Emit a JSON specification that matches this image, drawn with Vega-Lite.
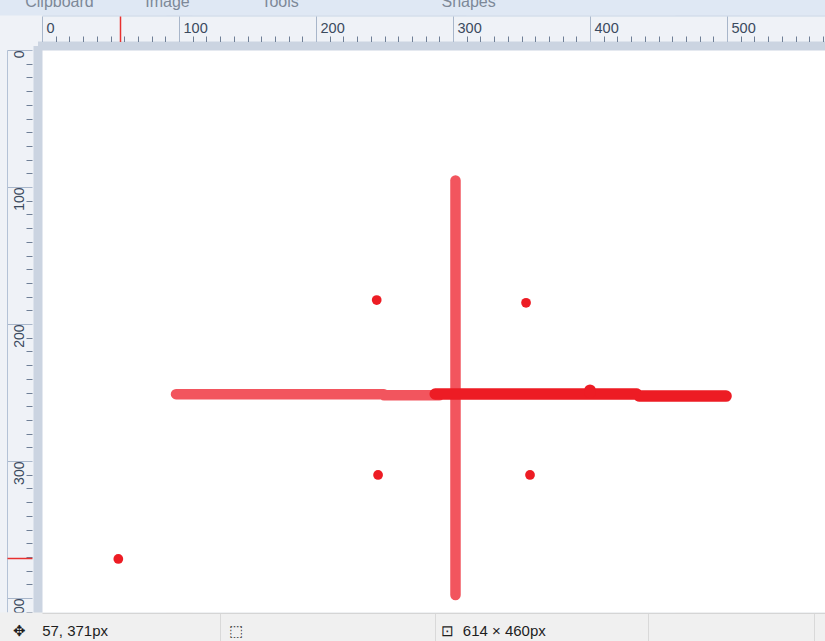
{
  "$schema": "https://vega.github.io/schema/vega-lite/v6.json",
  "width": 783,
  "height": 562,
  "autosize": {"type": "none"},
  "padding": {"left": 42, "top": 50, "right": 0, "bottom": 29},
  "background": "#eff2f7",
  "config": {
    "view": {"fill": "#ffffff", "stroke": null},
    "axis": {
      "grid": false,
      "labelFont": "Liberation Sans",
      "labelOverlap": false,
      "labelFlush": false,
      "labelBound": false,
      "tickCap": "butt"
    }
  },
  "datasets": {
    "strokes": [
      {"stroke": "v", "tool": "light", "i": 0, "x": 301.8, "y": 95.3},
      {"stroke": "v", "tool": "light", "i": 1, "x": 301.8, "y": 397.8},
      {"stroke": "h1", "tool": "light", "i": 0, "x": 97.8, "y": 251.2},
      {"stroke": "h1", "tool": "light", "i": 1, "x": 249.6, "y": 251.2},
      {"stroke": "h1", "tool": "light", "i": 2, "x": 249.6, "y": 252},
      {"stroke": "h1", "tool": "light", "i": 3, "x": 290, "y": 252},
      {"stroke": "h2", "tool": "dark", "i": 0, "x": 287, "y": 251.1},
      {"stroke": "h2", "tool": "dark", "i": 1, "x": 434, "y": 251.1},
      {"stroke": "h2", "tool": "dark", "i": 2, "x": 436, "y": 252.6},
      {"stroke": "h2", "tool": "dark", "i": 3, "x": 499.3, "y": 252.6},
      {"stroke": "bump", "tool": "dark", "i": 0, "x": 400, "y": 248.3},
      {"stroke": "bump", "tool": "dark", "i": 1, "x": 400, "y": 250}
    ],
    "dots": [
      {"x": 244.3, "y": 182.5},
      {"x": 353.3, "y": 184.5},
      {"x": 245.3, "y": 310.2},
      {"x": 356.2, "y": 310.2},
      {"x": 55.7, "y": 371.5}
    ]
  },
  "resolve": {"axis": {"x": "independent", "y": "independent"}},
  "layer": [
    {
      "data": {"name": "strokes"},
      "transform": [{"filter": "datum.tool == 'light'"}],
      "mark": {"type": "line", "color": "#f2555e", "strokeWidth": 10.5, "strokeCap": "round", "strokeJoin": "round"},
      "encoding": {
        "x": {"field": "x", "type": "quantitative", "scale": {"domain": [0, 571.5], "nice": false, "zero": false},
          "axis": {"orient": "top", "offset": 35, "values": [0, 200, 400, 571.5], "tickWidth": 300, "tickSize": 15.5,
            "tickColor": "#dfe8f4", "domain": false, "labels": false, "title": null}},
        "y": {"field": "y", "type": "quantitative", "scale": {"domain": [0, 410.2], "nice": false, "zero": false, "reverse": true},
          "axis": {"orient": "left", "offset": 4.5, "domainWidth": 9, "domainColor": "#cbd4e1", "domainCap": "square",
            "ticks": false, "labels": false, "title": null}},
        "detail": {"field": "stroke"},
        "order": {"field": "i"}
      }
    },
    {
      "data": {"name": "strokes"},
      "transform": [{"filter": "datum.tool == 'dark'"}],
      "mark": {"type": "line", "color": "#ed1c24", "strokeWidth": 11.5, "strokeCap": "round", "strokeJoin": "round"},
      "encoding": {
        "x": {"field": "x", "type": "quantitative", "scale": {"domain": [0, 571.5], "nice": false, "zero": false},
          "axis": {"orient": "top", "offset": 34.5, "values": [12.4, 91.2, 173.4, 311], "ticks": false,
            "domainColor": "#c8d5e6", "domainWidth": 1,
            "labelExpr": "datum.value < 50 ? 'Clipboard' : datum.value < 130 ? 'Image' : datum.value < 250 ? 'Tools' : 'Shapes'",
            "labelAlign": "center", "labelBaseline": "alphabetic", "labelPadding": 9, "labelFontSize": 16,
            "labelColor": "#7d8898", "title": null}},
        "y": {"field": "y", "type": "quantitative", "scale": {"domain": [0, 410.2], "nice": false, "zero": false, "reverse": true},
          "axis": {"orient": "left", "offset": 10,
            "values": [10, 20, 30, 40, 50, 60, 70, 80, 90, 110, 120, 130, 140, 150, 160, 170, 180, 190, 210, 220, 230, 240, 250, 260, 270, 280, 290, 310, 320, 330, 340, 350, 360, 370, 380, 390, 410],
            "tickSize": 6, "tickColor": "#6f7f96", "domain": false, "labels": false, "title": null}},
        "detail": {"field": "stroke"},
        "order": {"field": "i"}
      }
    },
    {
      "data": {"name": "dots"},
      "mark": {"type": "circle", "color": "#ed1c24", "opacity": 1, "size": 95},
      "encoding": {
        "x": {"field": "x", "type": "quantitative", "scale": {"domain": [0, 571.5], "nice": false, "zero": false},
          "axis": {"orient": "top", "offset": 4.5, "domainWidth": 9, "domainColor": "#cbd4e1", "domainCap": "square",
            "ticks": false, "labels": false, "title": null}},
        "y": {"field": "y", "type": "quantitative", "scale": {"domain": [0, 410.2], "nice": false, "zero": false, "reverse": true},
          "axis": {"orient": "left", "offset": 10, "values": [0, 100, 200, 300, 400], "format": "d",
            "tickSize": 25, "tickColor": "#a8b6ca", "domain": false,
            "labelAngle": 270, "labelAlign": "right", "labelBaseline": "middle", "labelPadding": -12, "labelDx": -3,
            "labelFontSize": 14, "labelColor": "#3b4a5e", "title": null}}
      }
    },
    {
      "data": {"name": "dots"},
      "mark": {"type": "point", "opacity": 0},
      "encoding": {
        "x": {"field": "x", "type": "quantitative", "scale": {"domain": [0, 571.5], "nice": false, "zero": false},
          "axis": {"orient": "top", "offset": 8.5,
            "values": [10, 20, 30, 40, 50, 60, 70, 80, 90, 110, 120, 130, 140, 150, 160, 170, 180, 190, 210, 220, 230, 240, 250, 260, 270, 280, 290, 310, 320, 330, 340, 350, 360, 370, 380, 390, 410, 420, 430, 440, 450, 460, 470, 480, 490, 510, 520, 530, 540, 550, 560, 570],
            "tickSize": 5.5, "tickColor": "#6f7f96", "domain": false, "labels": false, "title": null}},
        "y": {"field": "y", "type": "quantitative", "scale": {"domain": [0, 410.2], "nice": false, "zero": false, "reverse": true},
          "axis": {"orient": "left", "offset": 35, "domainColor": "#b4c2d6", "domainWidth": 1,
            "ticks": false, "labels": false, "title": null}}
      }
    },
    {
      "data": {"name": "dots"},
      "mark": {"type": "point", "opacity": 0},
      "encoding": {
        "x": {"field": "x", "type": "quantitative", "scale": {"domain": [0, 571.5], "nice": false, "zero": false},
          "axis": {"orient": "top", "offset": 8.5, "values": [0, 100, 200, 300, 400, 500], "format": "d",
            "tickSize": 25.5, "tickColor": "#a8b6ca", "domain": false,
            "labelAlign": "left", "labelBaseline": "middle", "labelPadding": -12.5, "labelOffset": 4,
            "labelFontSize": 14.5, "labelColor": "#3b4a5e", "title": null}},
        "y": {"field": "y", "type": "quantitative", "scale": {"domain": [0, 410.2], "nice": false, "zero": false, "reverse": true},
          "axis": {"orient": "left", "offset": 10, "values": [371], "tickSize": 25, "tickColor": "#e8302f", "tickWidth": 1.5,
            "domain": false, "labels": false, "title": null}}
      }
    },
    {
      "data": {"name": "dots"},
      "mark": {"type": "point", "opacity": 0},
      "encoding": {
        "x": {"field": "x", "type": "quantitative", "scale": {"domain": [0, 571.5], "nice": false, "zero": false},
          "axis": {"orient": "top", "offset": 8.5, "values": [57], "tickSize": 25.5, "tickColor": "#e8302f", "tickWidth": 1.5,
            "domain": false, "labels": false, "title": null}},
        "y": {"field": "y", "type": "quantitative", "scale": {"domain": [0, 410.2], "nice": false, "zero": false, "reverse": true}, "axis": null}
      }
    },
    {
      "data": {"name": "dots"},
      "mark": {"type": "point", "opacity": 0},
      "encoding": {
        "x": {"field": "x", "type": "quantitative", "scale": {"domain": [0, 571.5], "nice": false, "zero": false},
          "axis": {"orient": "bottom", "offset": 0, "values": [0, 200, 400, 571.5], "tickWidth": 300, "tickSize": 29,
            "tickColor": "#f0f0f0", "domain": false, "labels": false, "title": null, "zindex": 1}},
        "y": {"field": "y", "type": "quantitative", "scale": {"domain": [0, 410.2], "nice": false, "zero": false, "reverse": true}, "axis": null}
      }
    },
    {
      "data": {"name": "dots"},
      "mark": {"type": "point", "opacity": 0},
      "encoding": {
        "x": {"field": "x", "type": "quantitative", "scale": {"domain": [0, 571.5], "nice": false, "zero": false},
          "axis": {"orient": "bottom", "offset": 1, "values": [129.9, 286.9, 442.3, 563.5], "tickSize": 28,
            "tickColor": "#d9d9d9", "domainColor": "#d5d5d5", "domainWidth": 1, "labels": false, "title": null, "zindex": 1}},
        "y": {"field": "y", "type": "quantitative", "scale": {"domain": [0, 410.2], "nice": false, "zero": false, "reverse": true}, "axis": null}
      }
    },
    {
      "data": {"name": "dots"},
      "mark": {"type": "point", "opacity": 0},
      "encoding": {
        "x": {"field": "x", "type": "quantitative", "scale": {"domain": [0, 571.5], "nice": false, "zero": false},
          "axis": {"orient": "bottom", "offset": 0, "values": [0, 157.7, 313.1], "ticks": false, "domain": false,
            "labelExpr": "datum.value < 50 ? '✥\u00a0\u00a0\u00a0\u00a057, 371px' : datum.value < 200 ? '⬚' : '⊡\u00a0\u00a0614 × 460px'",
            "labelAlign": "left", "labelBaseline": "middle", "labelPadding": 18, "labelOffset": -30,
            "labelFontSize": 15, "labelColor": "#1e1e1e", "title": null, "zindex": 1}},
        "y": {"field": "y", "type": "quantitative", "scale": {"domain": [0, 410.2], "nice": false, "zero": false, "reverse": true}, "axis": null}
      }
    }
  ]
}
